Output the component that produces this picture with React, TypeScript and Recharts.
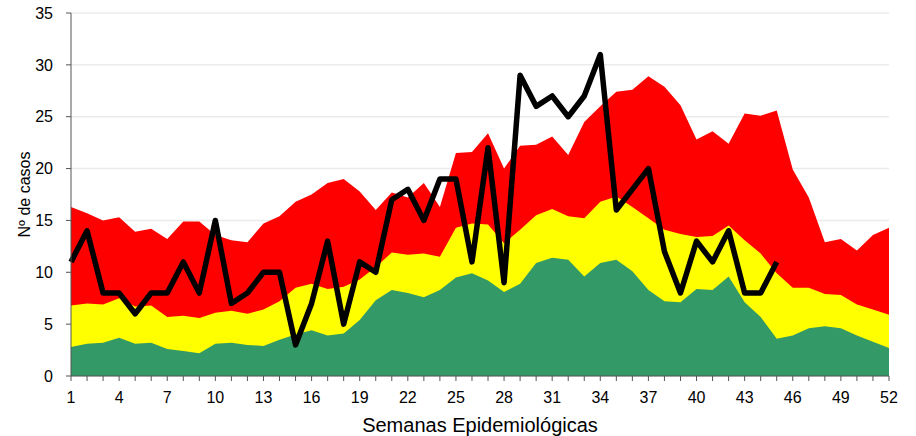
import { ComposedChart, Area, Line, XAxis, YAxis, CartesianGrid } from 'recharts';

// semanas epidemiológicas
const weeks = Array.from({ length: 52 }, (_, i) => i + 1);

// corredor endémico (valores acumulados: límite superior de cada zona)
const successZone = [
  2.8, 3.1, 3.2, 3.7, 3.1, 3.2, 2.6, 2.4, 2.2, 3.1, 3.2, 3.0, 2.9, 3.5, 4.0, 4.4, 3.9, 4.1, 5.4, 7.3,
  8.3, 8.0, 7.6, 8.3, 9.5, 9.9, 9.2, 8.1, 8.9, 10.9, 11.4, 11.2, 9.6, 10.9, 11.2, 10.1, 8.3, 7.2, 7.1, 8.4,
  8.3, 9.6, 7.1, 5.7, 3.6, 3.9, 4.6, 4.8, 4.6, 3.9, 3.3, 2.7,
];
const securityZone = [
  6.8, 7.0, 6.9, 7.5, 6.7, 6.8, 5.7, 5.8, 5.6, 6.1, 6.3, 6.0, 6.4, 7.2, 8.5, 8.9, 8.4, 8.6, 9.3, 10.5,
  11.9, 11.7, 11.8, 11.5, 14.3, 14.7, 14.6, 12.8, 14.1, 15.5, 16.1, 15.4, 15.2, 16.8, 17.3, 16.3, 15.2, 14.1, 13.7, 13.4,
  13.5, 14.5, 13.1, 11.8, 9.9, 8.5, 8.5, 7.9, 7.8, 6.9, 6.4, 5.9,
];
const alarmZone = [
  16.3, 15.7, 15.0, 15.3, 13.9, 14.2, 13.2, 14.9, 14.9, 13.6, 13.1, 12.9, 14.7, 15.4, 16.8, 17.5, 18.6, 19.0, 17.8, 16.0,
  17.7, 17.2, 18.6, 16.3, 21.5, 21.6, 23.4, 20.0, 22.2, 22.3, 23.1, 21.3, 24.5, 26.0, 27.4, 27.6, 28.9, 27.9, 26.1, 22.8,
  23.6, 22.4, 25.3, 25.1, 25.6, 19.9, 17.2, 12.9, 13.2, 12.1, 13.6, 14.3,
];

// casos notificados (hasta la semana 45)
const cases = [
  11, 14, 8, 8, 6, 8, 8, 11, 8, 15, 7, 8, 10, 10, 3, 7, 13, 5, 11, 10,
  17, 18, 15, 19, 19, 11, 22, 9, 29, 26, 27, 25, 27, 31, 16, 18, 20, 12, 8, 13,
  11, 14, 8, 8, 11,
];

const xTicks = weeks;
const yTicks = [0, 5, 10, 15, 20, 25, 30, 35];

const data = weeks.map((w, i) => ({
  week: w,
  alarm: alarmZone[i],
  security: securityZone[i],
  success: successZone[i],
  cases: i < cases.length ? cases[i] : null,
}));

const font = '"Liberation Sans", Arial, sans-serif';

export default function App() {
  return (
    <div style={{ position: 'absolute', left: 0, top: 0, background: '#fff' }}>
      <ComposedChart
        width={916}
        height={436}
        data={data}
        margin={{ top: 13, right: 27, bottom: 0, left: 0 }}
        style={{ fontFamily: font }}
      >
        <CartesianGrid vertical={false} stroke="#ebebeb" strokeWidth={1.5} />
        <XAxis
          dataKey="week"
          type="number"
          domain={[1, 52]}
          ticks={xTicks}
          interval={0}
          height={60}
          tickSize={5}
          tickMargin={11}
          stroke="#555"
          tickLine={{ stroke: '#555' }}
          tick={{ fill: '#000', fontSize: 16 }}
          tickFormatter={(v) => ((v - 1) % 3 === 0 ? String(v) : '')}
          label={{
            value: 'Semanas Epidemiológicas',
            position: 'insideBottom',
            offset: 4,
            style: { fill: '#000', fontSize: 20 },
          }}
        />
        <YAxis
          domain={[0, 35]}
          ticks={yTicks}
          width={71}
          tickSize={5}
          tickMargin={13}
          stroke="#555"
          tickLine={{ stroke: '#555' }}
          tick={{ fill: '#000', fontSize: 16 }}
          label={{
            value: 'Nº de casos',
            angle: -90,
            position: 'insideLeft',
            offset: 24,
            style: { fill: '#000', fontSize: 16, textAnchor: 'middle' },
          }}
        />
        <Area type="linear" dataKey="alarm" stroke="none" fill="#ff0000" fillOpacity={1} isAnimationActive={false} />
        <Area type="linear" dataKey="security" stroke="none" fill="#ffff00" fillOpacity={1} isAnimationActive={false} />
        <Area type="linear" dataKey="success" stroke="none" fill="#339966" fillOpacity={1} isAnimationActive={false} />
        <Line
          type="linear"
          dataKey="cases"
          stroke="#000"
          strokeWidth={5.5}
          strokeLinejoin="round"
          dot={false}
          activeDot={false}
          isAnimationActive={false}
        />
      </ComposedChart>
    </div>
  );
}
